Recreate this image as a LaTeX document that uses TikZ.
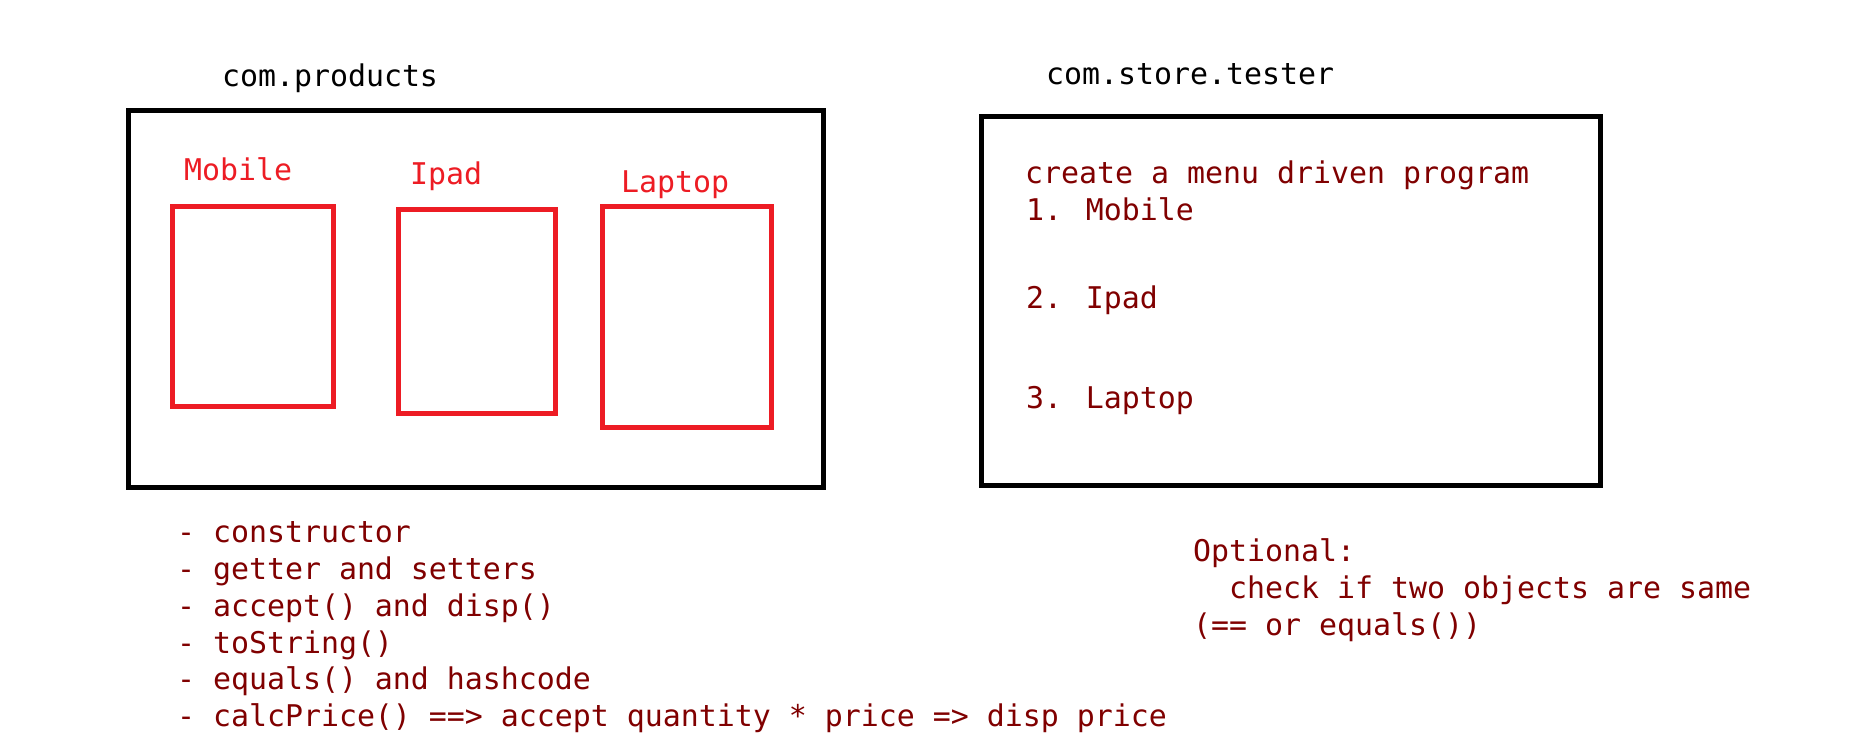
\documentclass[tikz,border=0pt]{standalone}
\usepackage{fontspec}
\newfontfamily\codefont{DejaVu Sans Mono}
\definecolor{boxred}{HTML}{ED1C24}
\definecolor{maroon}{HTML}{800000}
\begin{document}
\begin{tikzpicture}[x=1pt,y=-1pt,
  txt/.style={anchor=base west,inner sep=0pt,outer sep=0pt,font=\codefont\fontsize{29.9}{36.8}\selectfont},
  pkg/.style={txt,text=black},
  lbl/.style={txt,text=boxred},
  note/.style={txt,text=maroon,align=left},
  pkgbox/.style={draw=black,line width=5pt,inner sep=0pt,outer sep=0pt},
  clsbox/.style={draw=boxred,line width=5pt,inner sep=0pt,outer sep=0pt}]
\useasboundingbox[fill=white] (0,0) rectangle (1850,743);
% package boxes
\node[pkgbox,minimum width=695pt,minimum height=376.7pt] (products) at (476,299.15) {};
\node[pkgbox,minimum width=618.5pt,minimum height=369.2pt] (tester) at (1290.75,301.1) {};
% class boxes
\node[clsbox,minimum width=160.5pt,minimum height=200pt] (mobile) at (252.75,306.8) {};
\node[clsbox,minimum width=157pt,minimum height=204pt] (ipad) at (476.5,311.3) {};
\node[clsbox,minimum width=169pt,minimum height=221pt] (laptop) at (687,317) {};
% titles
\node[pkg] (tproducts) at (222,86.7) {com.products};
\node[pkg] (ttester) at (1046,84.3) {com.store.tester};
% class labels
\node[lbl] (lmobile) at (184,180.7) {Mobile};
\node[lbl] (lipad) at (410,185) {Ipad};
\node[lbl] (llaptop) at (621,192.7) {Laptop};
% menu text
\node[note] (menu0) at (1025,183.3) {create a menu driven program};
\node[note] (menu1) at (1026,221) {1. Mobile};
\node[note] (menu2) at (1026,308.3) {2. Ipad};
\node[note] (menu3) at (1026,408.3) {3. Laptop};
% method list
\node[note] (m1) at (177,542.7) {- constructor};
\node[note] (m2) at (177,579.5) {- getter and setters};
\node[note] (m3) at (177,616.3) {- accept() and disp()};
\node[note] (m4) at (177,653.1) {- toString()};
\node[note] (m5) at (177,689.9) {- equals() and hashcode};
\node[note] (m6) at (177,726.7) {- calcPrice() ==> accept quantity * price => disp price};
% optional
\node[note] (o1) at (1193,561) {Optional:};
\node[note] (o2) at (1193,598.3) {\ \ check if two objects are same};
\node[note] (o3) at (1193,635.3) {(== or equals())};
\end{tikzpicture}
\end{document}
